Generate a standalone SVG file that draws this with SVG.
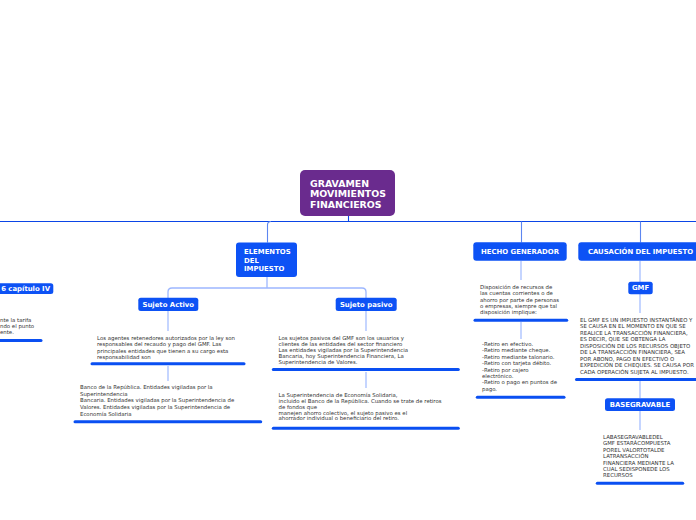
<svg xmlns="http://www.w3.org/2000/svg" width="696" height="520" viewBox="0 0 696 520">
<style>
.node{fill:#0d52f5}
.main{fill:#6a2b8e}
.nt{font-family:"DejaVu Sans",Verdana,sans-serif;font-weight:bold;font-size:6.9px;fill:#fff}
.mt{font-family:"DejaVu Sans",Verdana,sans-serif;font-weight:bold;font-size:9.4px;fill:#fff}
.t{font-family:"DejaVu Sans",Verdana,sans-serif;font-size:5.4px;fill:#333}
.tc{font-family:"DejaVu Sans",Verdana,sans-serif;font-size:5.4px;fill:#333}
.bar{stroke:#0a4ff2;stroke-width:3;stroke-linecap:round;fill:none}
.top{stroke:#0b45e6;stroke-width:1.1;fill:none}
.stem{stroke:#5d86f0;stroke-width:1.1;fill:none}
.sub{stroke:#9db7ff;stroke-width:1.3;fill:none}
.lt{stroke:#b3c8ff;stroke-width:1.5;fill:none}
</style>
<rect width="696" height="520" fill="#fff"/>
<g id="connectors">
<path class="top" d="M0,221.5 H696"/>
<path class="top" d="M348.5,216 V221.5"/>
<path class="stem" d="M271,221.5 Q267.5,221.5 267.5,225 V242.5"/>
<path class="stem" d="M521.5,221.5 V242.5"/>
<path class="stem" d="M640.5,221.5 V242.5"/>
<path class="sub" d="M267,277 V288 M172,288 H362 Q366,288 366,292 V298 M172,288 Q168,288 168,292 V298"/>
<path class="lt" d="M168,311 V331 M168,366 V381"/>
<path class="lt" d="M366,311 V331 M366,372 V388"/>
<path class="lt" d="M521,261 V280 M521,322 V339"/>
<path class="lt" d="M640,261 V282 M640,294 V313 M640,381 V398 M640,411 V430"/>
</g>
<g id="main">
<rect class="main" x="300" y="170" width="95" height="46" rx="5"/>
<text class="mt" x="310" y="186.7">GRAVAMEN</text>
<text class="mt" x="310" y="197.4">MOVIMIENTOS</text>
<text class="mt" x="310" y="208.1">FINANCIEROS</text>
</g>
<g id="left">
<rect class="node" x="-10" y="283.3" width="63.3" height="10.7" rx="2.5"/>
<text class="nt" x="50" y="291" text-anchor="end">6 capítulo IV</text>
<text class="t" x="0" y="322.3">nte la tarifa</text>
<text class="t" x="0" y="328.3">ndo el punto</text>
<text class="t" x="0" y="334.3">ente.</text>
<path class="bar" d="M-5,340.5 H41"/>
</g>
<g id="elementos">
<rect class="node" x="236" y="242.5" width="61" height="34.5" rx="3"/>
<text class="nt" x="244" y="254.2">ELEMENTOS</text>
<text class="nt" x="244" y="262.5">DEL</text>
<text class="nt" x="244" y="270.8">IMPUESTO</text>
</g>
<g id="sujeto-activo">
<rect class="node" x="138.3" y="297.7" width="60" height="13.3" rx="2.5"/>
<text class="nt" x="168.3" y="306.8" text-anchor="middle">Sujeto Activo</text>
</g>
<g id="activo-texto1">
<text class="t" x="97" y="340">Los agentes retenedores autorizados por la ley son</text>
<text class="t" x="97" y="346.3">responsables del recaudo y pago del GMF. Las</text>
<text class="t" x="97" y="352.6">principales entidades que tienen a su cargo esta</text>
<text class="t" x="97" y="358.9">responsabilidad son</text>
<path class="bar" d="M92,363.7 H244"/>
</g>
<g id="activo-texto2">
<text class="t" x="80" y="389">Banco de la República. Entidades vigiladas por la</text>
<text class="t" x="80" y="395.7">Superintendencia</text>
<text class="t" x="80" y="402.4">Bancaria. Entidades vigiladas por la Superintendencia de</text>
<text class="t" x="80" y="409.1">Valores. Entidades vigiladas por la Superintendencia de</text>
<text class="t" x="80" y="415.8">Economía Solidaria</text>
<path class="bar" d="M75,421.7 H260.7"/>
</g>
<g id="sujeto-pasivo">
<rect class="node" x="335.7" y="297.7" width="61" height="13.3" rx="2.5"/>
<text class="nt" x="366.2" y="306.8" text-anchor="middle">Sujeto pasivo</text>
</g>
<g id="pasivo-texto1">
<text class="t" x="278.5" y="340">Los sujetos pasivos del GMF son los usuarios y</text>
<text class="t" x="278.5" y="345.9">clientes de las entidades del sector financiero</text>
<text class="t" x="278.5" y="351.8">Las entidades vigiladas por la Superintendencia</text>
<text class="t" x="278.5" y="357.7">Bancaria, hoy Superintendencia Financiera, La</text>
<text class="t" x="278.5" y="363.6">Superintendencia de Valores.</text>
<path class="bar" d="M273.3,369.5 H458.3"/>
</g>
<g id="pasivo-texto2">
<text class="t" x="278.5" y="396.8">La Superintendencia de Economía Solidaria,</text>
<text class="t" x="278.5" y="402.7">incluido el Banco de la República. Cuando se trate de retiros</text>
<text class="t" x="278.5" y="408.6">de fondos que</text>
<text class="t" x="278.5" y="414.5">manejen ahorro colectivo, el sujeto pasivo es el</text>
<text class="t" x="278.5" y="420.4">ahorrador individual o beneficiario del retiro.</text>
<path class="bar" d="M273.3,428.3 H458.3"/>
</g>
<g id="hecho-generador">
<rect class="node" x="473.3" y="242.3" width="93.4" height="18.4" rx="3"/>
<text class="nt" x="520" y="254.2" text-anchor="middle">HECHO GENERADOR</text>
</g>
<g id="hecho-texto1">
<text class="t" x="480" y="289">Disposición de recursos de</text>
<text class="t" x="480" y="295.3">las cuentas corrientes o de</text>
<text class="t" x="480" y="301.6">ahorro por parte de personas</text>
<text class="t" x="480" y="307.9">o empresas, siempre que tal</text>
<text class="t" x="480" y="314.2">disposición implique:</text>
<path class="bar" d="M475,320.3 H566.7"/>
</g>
<g id="hecho-texto2">
<text class="t" x="482" y="345.8">-Retiro en efectivo.</text>
<text class="t" x="482" y="352.2">-Retiro mediante cheque.</text>
<text class="t" x="482" y="358.7">-Retiro mediante talonario.</text>
<text class="t" x="482" y="365.1">-Retiro con tarjeta débito.</text>
<text class="t" x="482" y="371.5">-Retiro por cajero</text>
<text class="t" x="482" y="378">electrónico.</text>
<text class="t" x="482" y="384.4">-Retiro o pago en puntos de</text>
<text class="t" x="482" y="390.8">pago.</text>
<path class="bar" d="M477.3,397.3 H564"/>
</g>
<g id="causacion">
<rect class="node" x="578.3" y="242.3" width="130" height="18.4" rx="3"/>
<text class="nt" x="640.5" y="254.2" text-anchor="middle">CAUSACIÓN DEL IMPUESTO</text>
</g>
<g id="gmf">
<rect class="node" x="628.3" y="281.7" width="24.4" height="12.6" rx="2.5"/>
<text class="nt" x="640.5" y="290.3" text-anchor="middle">GMF</text>
</g>
<g id="gmf-texto">
<text class="tc" x="580" y="321.8">EL GMF ES UN IMPUESTO INSTANTÁNEO Y</text>
<text class="tc" x="580" y="328.3">SE CAUSA EN EL MOMENTO EN QUE SE</text>
<text class="tc" x="580" y="334.8">REALICE LA TRANSACCIÓN FINANCIERA,</text>
<text class="tc" x="580" y="341.3">ES DECIR, QUE SE OBTENGA LA</text>
<text class="tc" x="580" y="347.8">DISPOSICIÓN DE LOS RECURSOS OBJETO</text>
<text class="tc" x="580" y="354.3">DE LA TRANSACCIÓN FINANCIERA, SEA</text>
<text class="tc" x="580" y="360.8">POR ABONO, PAGO EN EFECTIVO O</text>
<text class="tc" x="580" y="367.3">EXPEDICIÓN DE CHEQUES. SE CAUSA POR</text>
<text class="tc" x="580" y="373.8">CADA OPERACIÓN SUJETA AL IMPUESTO.</text>
<path class="bar" d="M576.5,379.5 H700"/>
</g>
<g id="basegravable">
<rect class="node" x="605" y="398.3" width="70" height="12.7" rx="2.5"/>
<text class="nt" x="640" y="406.8" text-anchor="middle">BASEGRAVABLE</text>
</g>
<g id="base-texto">
<text class="tc" x="603" y="439">LABASEGRAVABLEDEL</text>
<text class="tc" x="603" y="445.4">GMF ESTARÁCOMPUESTA</text>
<text class="tc" x="603" y="451.8">POREL VALORTOTALDE</text>
<text class="tc" x="603" y="458.2">LATRANSACCIÓN</text>
<text class="tc" x="603" y="464.6">FINANCIERA MEDIANTE LA</text>
<text class="tc" x="603" y="471">CUAL SEDISPONEDE LOS</text>
<text class="tc" x="603" y="477.4">RECURSOS</text>
<path class="bar" d="M597.3,483.3 H682.7"/>
</g>
</svg>
